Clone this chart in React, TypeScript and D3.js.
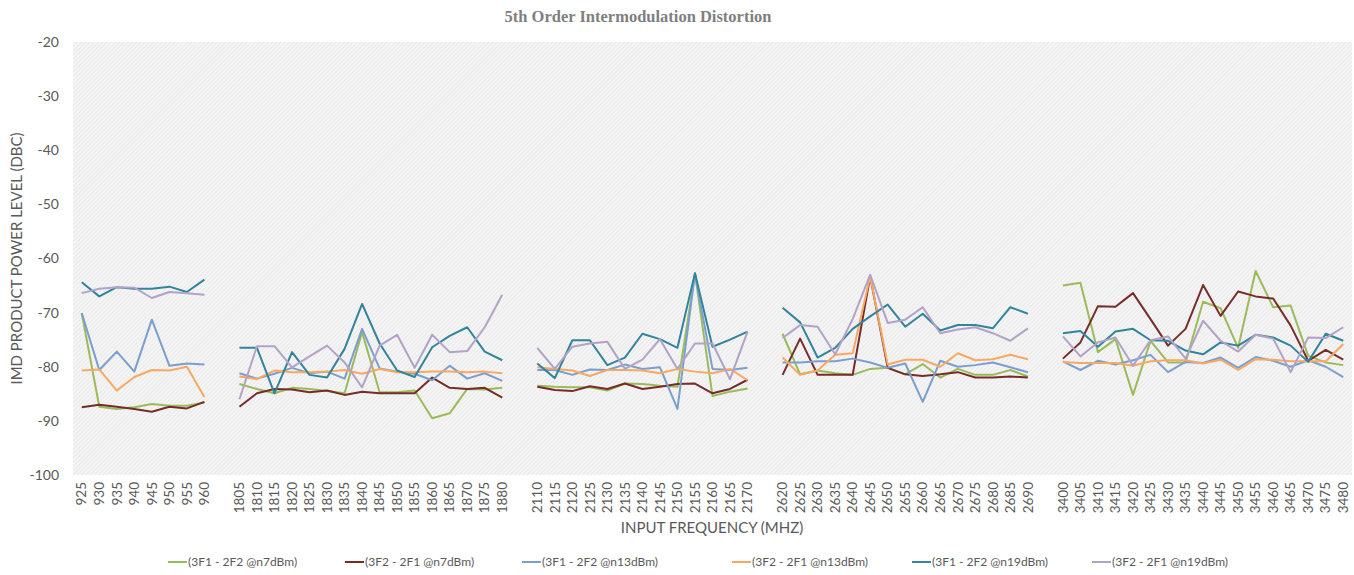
import React from "react";
import * as d3 from "d3";

// ---------- DATA ----------
const band1Freqs = [925, 930, 935, 940, 945, 950, 955, 960];
const band2Freqs = [1805, 1810, 1815, 1820, 1825, 1830, 1835, 1840, 1845, 1850, 1855, 1860, 1865, 1870, 1875, 1880];
const band3Freqs = [2110, 2115, 2120, 2125, 2130, 2135, 2140, 2145, 2150, 2155, 2160, 2165, 2170];
const band4Freqs = [2620, 2625, 2630, 2635, 2640, 2645, 2650, 2655, 2660, 2665, 2670, 2675, 2680, 2685, 2690];
const band5Freqs = [3400, 3405, 3410, 3415, 3420, 3425, 3430, 3435, 3440, 3445, 3450, 3455, 3460, 3465, 3470, 3475, 3480];

const seriesNames = [
  "(3F1 - 2F2 @n7dBm)",
  "(3F2 - 2F1 @n7dBm)",
  "(3F1 - 2F2 @n13dBm)",
  "(3F2 - 2F1 @n13dBm)",
  "(3F1 - 2F2 @n19dBm)",
  "(3F2 - 2F1 @n19dBm)",
];

const f1n7 = [
  -70.1, -87.4, -87.8, -87.5, -86.9, -87.2, -87.2, -86.6,
  -83.2, -84.1, -84.9, -83.9, -84.1, -84.5, -84.9, -73.6, -84.7, -84.7, -84.4, -89.5, -88.6, -84.1, -84.2, -83.9,
  -83.5, -83.7, -83.8, -83.8, -84.4, -83.1, -83.2, -83.5, -83.7, -62.8, -85.4, -84.6, -84.0,
  -73.9, -81.4, -80.7, -81.2, -81.5, -80.4, -80.2, -81.4, -79.5, -82.0, -80.4, -81.5, -81.5, -80.6, -81.8,
  -65.0, -64.5, -77.3, -74.9, -85.2, -75.2, -79.2, -79.2, -68.0, -69.2, -76.5, -62.3, -69.0, -68.7, -78.0, -79.2, -79.7,
];
const f2n7 = [
  -87.5, -87.0, -87.4, -87.8, -88.3, -87.4, -87.7, -86.5,
  -87.4, -84.9, -84.1, -84.2, -84.7, -84.4, -85.2, -84.6, -84.9, -84.9, -84.9, -82.0, -83.9, -84.1, -83.9, -85.7,
  -83.7, -84.3, -84.5, -83.6, -84.1, -83.1, -84.1, -83.7, -83.2, -83.1, -84.9, -84.1, -82.4,
  -81.5, -74.8, -81.5, -81.5, -81.5, -63.3, -80.2, -81.4, -81.7, -81.4, -81.0, -82.0, -82.0, -81.8, -82.0,
  -78.5, -75.5, -68.8, -68.9, -66.4, -71.2, -76.1, -73.0, -64.9, -70.6, -66.1, -67.0, -67.4, -72.4, -78.9, -76.9, -78.7,
];
const f1n13 = [
  -70.1, -80.6, -77.2, -80.9, -71.3, -79.8, -79.4, -79.6,
  -81.2, -82.2, -81.3, -80.2, -81.2, -80.9, -82.2, -73.0, -80.3, -80.9, -81.3, -82.5, -79.8, -82.2, -81.2, -82.6,
  -80.6, -80.6, -81.5, -80.5, -80.6, -79.6, -80.4, -80.1, -87.8, -62.8, -80.4, -80.6, -80.2,
  -79.2, -79.2, -79.0, -79.0, -78.5, -79.2, -80.2, -79.4, -86.5, -78.9, -80.0, -79.7, -79.2, -80.1, -81.0,
  -79.0, -80.6, -78.9, -79.6, -78.8, -77.8, -81.0, -79.1, -79.3, -78.3, -80.2, -78.2, -78.9, -80.0, -78.8, -80.0, -81.9,
];
const f2n13 = [
  -80.7, -80.5, -84.4, -81.9, -80.6, -80.7, -80.0, -85.6,
  -81.8, -82.3, -80.7, -81.0, -81.0, -80.9, -80.6, -81.3, -80.4, -81.0, -81.0, -80.9, -80.9, -81.0, -80.9, -81.2,
  -80.1, -80.4, -80.7, -81.7, -80.6, -80.6, -80.7, -81.2, -80.4, -80.9, -81.2, -80.4, -82.5,
  -78.3, -81.5, -80.7, -77.8, -77.5, -63.3, -79.6, -78.7, -78.7, -80.0, -77.5, -78.8, -78.6, -77.8, -78.6,
  -79.1, -79.3, -79.3, -79.3, -79.8, -79.0, -78.8, -78.8, -79.4, -78.7, -80.6, -78.6, -78.7, -79.0, -79.0, -79.0, -75.8,
];
const f1n19 = [
  -64.4, -67.0, -65.3, -65.6, -65.6, -65.2, -66.2, -63.9,
  -76.5, -76.5, -84.9, -77.3, -81.5, -82.0, -76.7, -68.4, -75.7, -80.7, -81.9, -76.4, -74.3, -72.7, -77.2, -78.8,
  -79.4, -82.1, -75.1, -75.1, -79.7, -78.3, -73.9, -74.9, -76.5, -62.7, -76.3, -75.0, -73.5,
  -69.1, -71.8, -78.3, -76.5, -73.0, -70.7, -68.5, -72.6, -70.2, -73.3, -72.3, -72.3, -72.9, -69.0, -70.2,
  -73.8, -73.4, -76.3, -73.5, -73.0, -75.1, -75.2, -77.0, -77.7, -75.5, -76.1, -74.1, -74.6, -76.1, -79.1, -73.9, -75.2,
];
const f2n19 = [
  -66.4, -65.6, -65.3, -65.4, -67.3, -66.2, -66.4, -66.7,
  -86.0, -76.2, -76.2, -80.1, -78.1, -76.1, -79.2, -83.8, -76.1, -74.1, -80.2, -74.1, -77.3, -77.1, -72.7, -66.7,
  -76.5, -80.4, -76.3, -75.7, -75.4, -80.4, -78.7, -74.9, -80.4, -75.7, -75.7, -82.3, -73.5,
  -74.7, -72.3, -72.6, -77.7, -71.2, -63.0, -71.9, -71.3, -69.0, -73.8, -73.1, -72.7, -73.8, -75.2, -72.9,
  -74.4, -78.1, -75.5, -74.6, -79.8, -75.1, -74.4, -78.5, -71.5, -75.2, -77.2, -74.1, -74.8, -81.0, -74.6, -74.7, -72.7,
];

const yTicks = [-100, -90, -80, -70, -60, -50, -40, -30, -20];

// ---------- STYLE / LAYOUT ----------
const seriesColors = ["#9BBB59", "#772C2A", "#7A9FCE", "#F9A862", "#31849B", "#B3A2C7"];
const legendX = [168, 345, 522, 732, 912, 1092];
const W = 1354;
const H = 575;
const M = { left: 73, right: 1352, top: 42, bottom: 475 };
const textColor = "#595959";
const font = "Lato, 'Open Sans', sans-serif";

const bands = [band1Freqs, band2Freqs, band3Freqs, band4Freqs, band5Freqs];
const allSeries = [f1n7, f2n7, f1n13, f2n13, f1n19, f2n19];

// categories with blank separators between bands
type Cat = { key: string; label: string; idx: number | null };
const categories: Cat[] = [];
{
  let n = 0;
  bands.forEach((b, bi) => {
    if (bi > 0) categories.push({ key: `gap${bi}`, label: "", idx: null });
    b.forEach((f) => {
      categories.push({ key: String(f), label: String(f), idx: n });
      n++;
    });
  });
}

export default function App() {
  const x = d3
    .scaleBand<string>()
    .domain(categories.map((c) => c.key))
    .range([M.left, M.right])
    .padding(0);
  const cx = (k: string) => (x(k) ?? 0) + x.bandwidth() / 2;
  const y = d3.scaleLinear().domain([-100, -20]).range([M.bottom, M.top]);

  const line = d3
    .line<{ k: string; v: number | null }>()
    .defined((d) => d.v != null)
    .x((d) => cx(d.k))
    .y((d) => y(d.v as number));

  return (
    <svg
      width={W}
      height={H}
      style={{ position: "absolute", left: 0, top: 0, background: "#fff" }}
      fontFamily={font}
    >
      <defs>
        <pattern id="hatch" width="3" height="3" patternUnits="userSpaceOnUse" patternTransform="rotate(45)">
          <rect width="3" height="3" fill="#f5f5f5" />
          <line x1="0" y1="0" x2="0" y2="3" stroke="#e2e2e2" strokeWidth="1.2" />
        </pattern>
      </defs>
      <rect x={M.left} y={M.top} width={M.right - M.left} height={M.bottom - M.top} fill="url(#hatch)" />

      <text
        x={638}
        y={22}
        textAnchor="middle"
        fontFamily="'Liberation Serif', 'DejaVu Serif', serif"
        fontWeight="bold"
        fontSize={16.5}
        fill="#7f7f7f"
      >
        5th Order Intermodulation Distortion
      </text>

      {yTicks.map((t) => (
        <text key={t} x={59} y={y(t)} dy="0.35em" textAnchor="end" fontSize={14} fill={textColor}>
          {t}
        </text>
      ))}

      <text
        transform={`translate(22,${(M.top + M.bottom) / 2}) rotate(-90)`}
        textAnchor="middle"
        fontSize={15}
        fill={textColor}
      >
        IMD PRODUCT POWER LEVEL (DBC)
      </text>

      {categories
        .filter((c) => c.label)
        .map((c) => (
          <text
            key={c.key}
            transform={`translate(${cx(c.key)},482) rotate(-90)`}
            dy="0.35em"
            textAnchor="end"
            fontSize={13.5}
            fill={textColor}
          >
            {c.label}
          </text>
        ))}

      <text x={712} y={533} textAnchor="middle" fontSize={15} fill={textColor}>
        INPUT FREQUENCY (MHZ)
      </text>

      {allSeries.map((s, si) => {
        const pts = categories.map((c) => ({ k: c.key, v: c.idx == null ? null : s[c.idx] }));
        return (
          <path
            key={si}
            d={line(pts) ?? ""}
            fill="none"
            stroke={seriesColors[si]}
            strokeWidth={2}
            strokeLinejoin="round"
          />
        );
      })}

      {seriesNames.map((n, i) => (
        <g key={n} transform={`translate(${legendX[i]},562)`}>
          <line x1={0} x2={19} y1={0} y2={0} stroke={seriesColors[i]} strokeWidth={2} />
          <text x={20} y={0} dy="0.35em" fontSize={12} fill={textColor}>
            {n}
          </text>
        </g>
      ))}
    </svg>
  );
}
